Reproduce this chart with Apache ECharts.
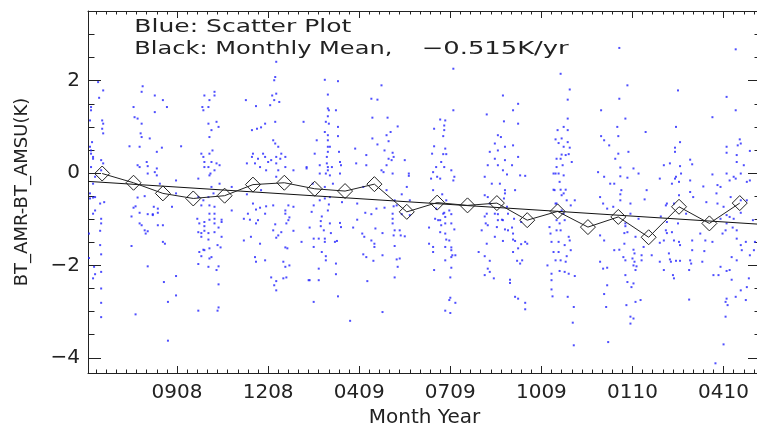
<!DOCTYPE html>
<html><head><meta charset="utf-8">
<script src="https://cdn.jsdelivr.net/npm/echarts@6/dist/echarts.min.js"></script>
<style>html,body{margin:0;padding:0;background:#fff}#c{width:757px;height:424px}</style>
</head><body><div id="c"></div>
<script>
// ---- axis ticks / labels (x in days from the left edge of the plot) ----
const xMajorTicks = [88, 178, 268, 358, 448, 538, 628];
const xTickLabels = ['0908', '1208', '0409', '0709', '1009', '0110', '0410'];
const yMajorTicks = [-4, -2, 0, 2];
const annotLine1 = 'Blue: Scatter Plot';
const annotLine2a = 'Black: Monthly Mean,';
const annotLine2b = '\u22120.515K/yr';

// ---- monthly means (black diamonds) ----
const monthDay  = [14, 45, 74, 104, 135, 163, 194, 224, 254, 283, 315, 345, 375, 404, 434, 464, 494, 524, 554, 584, 614, 644];
const monthMean = [-0.01, -0.21, -0.44, -0.55, -0.49, -0.25, -0.21, -0.34, -0.39, -0.24, -0.84, -0.64, -0.70, -0.65, -1.02, -0.83, -1.17, -0.95, -1.39, -0.73, -1.09, -0.65];

// ---- linear trend (end points) ----
const trendDay = [0, 665];
const trendValue = [-0.18, -1.11];

// ---- scatter (blue dots) [day, K] ----
const scatterPart1 = [
[3,1.43],[3,1.36],[2,1.14],[4,0.67],[2,0.57],[3,0.49],[3,0.42],[5,0.35],[3,0.13],[7,-0.08],[5,-0.23],
[10,1.97],[15,1.79],[11,1.63],[14,1.14],[15,1.07],[14,0.96],[15,0.86],[13,0.28],[15,0.21],[13,0.06],
[45,1.43],[46,1.21],[49,1.18],[53,1.76],[54,1.88],[53,1.07],[52,0.86],[53,0.78],[61,0.75],[41,0.58],[51,0.57],[58,0.24],[59,0.15],[49,0.17],[66,1.68],[66,1.32],[68,0.46],[74,1.58],[78,1.43],[73,0.55],[66,0.02],[68,-0.05],[92,0.58],
[115,1.68],[113,1.43],[114,1.36],[120,1.58],[119,1.43],[125,1.76],[125,1.68],[119,1.07],[127,1.11],[129,1.0],[122,0.93],[120,0.78],[123,0.49],[120,0.42],[112,0.42],[115,0.24],[122,0.24],[127,0.21],[130,0.17],[119,0.13],[125,0.06],[121,-0.01],[109,-0.12],
[156,1.58],[166,1.45],[162,0.93],[167,0.96],[171,0.99],[175,1.07],[163,0.42],[162,0.35],[168,0.31],[173,0.42],[175,0.35],[165,0.21],[170,0.13],[178,0.24],
[186,2.41],[185,2.08],[184,2.01],[182,1.68],[186,1.72],[184,1.58],[189,1.54],[180,1.47],[185,1.11],[183,0.71],[185,0.64],[188,0.57],[186,0.35],[190,0.31],[181,0.28],[186,0.21],[191,0.42],[195,0.35],[188,0.06],[195,0.13],[213,1.11],[216,0.13],
[234,2.02],[247,1.99],[237,1.70],[237,1.40],[238,1.36],[245,1.36],[237,1.23],[235,1.11],[238,1.07],[247,1.0],[234,0.89],[237,0.82],[247,0.80],[226,0.71],[237,0.71],[237,0.57],[239,0.57],[224,0.42],[237,0.46],[248,0.46],[236,0.35],[249,0.24],[250,0.17],[237,0.13],[241,0.13],[216,0.10],[229,0.17],[235,-0.01],[239,-0.05],[249,-0.01],
[264,0.53],[275,0.39],[275,0.17],[290,1.90],[280,1.61],[286,1.59],[281,1.20],[296,1.20],[306,1.01],[299,0.89],[281,0.75],[295,0.82],[286,0.62],[297,0.69],[293,0.49],[301,0.44],[297,0.31],[302,0.35],[313,0.28],[295,0.17],[292,0.02],[301,-0.01],[317,-0.06],
[361,2.26],[361,1.36],[348,1.16],[353,1.14],[352,1.03],[342,0.96],[352,0.93],[351,0.80],[342,0.58],[353,0.53],[340,0.42],[351,0.41],[354,0.41],[349,0.24],[344,0.13],[352,0.13],[359,0.06],[341,0.02],[345,-0.08],[362,-0.08],[348,-0.12],
[410,1.68],[425,1.50],[420,1.36],[394,1.27],[411,1.12],[425,1.07],[405,0.82],[408,0.78],[402,0.64],[412,0.57],[420,0.60],[397,0.46],[405,0.49],[425,0.35],[402,0.31],[412,0.28],[395,0.17],[405,0.17],[419,0.17],[392,-0.08],[410,0.06],[414,-0.03],[427,-0.05],[432,-0.06],[399,-0.23],[412,-0.37]
];
const scatterPart2 = [
[525,2.71],[640,2.68],[467,2.15],[476,1.81],[533,1.90],[583,1.79],[474,1.59],[525,1.61],[507,1.36],[631,1.65],[640,1.36],[474,1.18],[531,1.18],[617,1.21],[470,1.0],[464,0.93],[474,0.93],[523,1.0],[551,0.89],[581,1.0],[507,0.80],[524,0.80],[462,0.73],[468,0.75],[465,0.65],[474,0.67],[510,0.71],[644,0.73],[515,0.60],[470,0.57],[476,0.55],[585,0.67],[580,0.55],[631,0.57],[642,0.60],[645,0.64],[468,0.40],[472,0.39],[475,0.41],[463,0.31],[467,0.31],[478,0.24],[524,0.42],[534,0.46],[521,0.31],[580,0.46],[631,0.44],[641,0.39],[654,0.48],[595,0.29],[469,0.17],[463,0.13],[526,0.12],[539,0.10],[569,0.17],[575,0.21],[585,0.15],[597,0.19],[648,0.17],[641,0.24],[462,-0.01],[465,-0.01],[470,-0.05],[504,0.02],[510,-0.08],[520,-0.23],[526,-0.07],[533,-0.10],[544,-0.01],[565,-0.12],[580,-0.12],[584,-0.19],[586,-0.01],[595,-0.16],[608,-0.29],[617,-0.03],[622,-0.26],[631,-0.01],[634,-0.16],[640,-0.12],[645,-0.01],[651,-0.19],[460,-0.36],[467,-0.36],[472,-0.36]
];
const scatterPart3 = [
[2,-0.55],[5,-0.53],[12,-0.66],[16,-0.63],[7,-0.81],[5,-0.88],[13,-0.99],[13,-1.09],[12,-1.25],[1,-1.31],[12,-1.56],[13,-1.76],[1,-1.84],[6,-2.03],[13,-2.14],[7,-2.19],[5,-2.28],[13,-2.50],[13,-2.81],[13,-3.12],[47,-3.06],[45,-0.75],[47,-0.72],[49,-0.53],[56,-0.50],[43,-0.94],[51,-0.86],[51,-1.09],[53,-1.13],[56,-1.24],[57,-1.31],[59,-1.26],[43,-1.58],[59,-0.89],[64,-0.89],[69,-0.77],[69,-0.86],[65,-0.73],[59,-2.02],[69,-1.13],[74,-1.13],[74,-1.49],[76,-1.53],[75,-2.36],[79,-2.79],[79,-3.63],[83,-0.73],[87,-2.23],[87,-2.65],
[109,-0.52],[112,-0.70],[114,-0.59],[119,-0.52],[120,-0.70],[120,-0.88],[125,-0.88],[125,-0.73],[108,-0.99],[110,-1.09],[115,-1.06],[115,-1.15],[120,-1.01],[125,-0.99],[125,-1.09],[109,-1.28],[112,-1.30],[115,-1.25],[119,-1.30],[125,-1.28],[112,-1.38],[119,-1.44],[132,-1.01],[132,-1.06],[132,-1.38],[129,-1.18],[128,-1.56],[131,-1.61],[114,-1.66],[115,-1.67],[110,-1.71],[120,-1.63],[112,-1.80],[120,-1.85],[122,-1.82],[109,-1.97],[119,-2.03],[129,-2.02],[127,-2.10],[129,-2.41],[109,-2.98],[129,-2.91],[128,-2.98],
[157,-0.46],[163,-0.66],[170,-0.75],[176,-0.72],[183,-0.70],[158,-0.88],[166,-0.79],[175,-0.88],[154,-0.99],[160,-1.01],[166,-1.09],[168,-1.02],[198,-0.70],[203,-0.73],[195,-0.81],[195,-0.88],[199,-0.96],[198,-1.02],[196,-1.09],[185,-1.11],[183,-1.24],[191,-1.28],[188,-1.35],[186,-1.40],[203,-1.25],[161,-1.38],[154,-1.46],[170,-1.53],[195,-1.61],[197,-1.63],[211,-1.49],[165,-1.82],[166,-1.92],[175,-1.89],[193,-1.92],[195,-2.03],[199,-2.00],[181,-2.26],[186,-2.34],[193,-2.28],[196,-2.26],[184,-2.43],[186,-2.54],[218,-2.32],
[221,-0.84],[223,-0.70],[219,-1.18],[223,-1.42],[223,-1.60],[228,-1.42],[219,-2.32],[228,-2.07],[228,-2.32],[223,-2.79],[231,-1.71],[231,-0.94],[230,-1.04],[230,-1.15],[233,-1.24],[234,-1.42],[234,-1.49],[235,-1.80],[235,-1.89],[237,-0.81],[239,-1.09],[238,-0.68],[240,-1.30],[234,-0.55],[229,-0.59],[244,-1.49],[246,-1.47],[245,-1.96],[245,-2.19],[247,-2.67],[249,-1.08],[250,-1.17],[251,-0.63],[259,-3.20],[262,-1.18],[266,-1.01],[266,-0.66],[271,-1.31],[273,-1.38],[272,-1.76],[275,-1.82],[276,-2.34],[274,-0.86],[280,-0.89],[280,-1.46],[283,-1.53],[283,-1.60],[282,-1.90],[284,-1.20],[285,-0.77],[291,-1.30],[291,-1.78],[291,-3.01],[293,-0.75],[301,-0.88],[301,-0.99],[301,-1.09],[303,-1.24],[302,-1.35],[303,-1.58],[305,-1.87],[303,-2.26],[308,-1.24],[309,-1.35],[306,-2.03],[308,-1.85],[313,-1.37],[310,-0.89],[310,-0.46],[302,-0.72],[305,-0.70],[318,-0.91],
[337,-1.18],[337,-1.53],[341,-1.60],[341,-1.71],[342,-2.10],[343,-0.99],[344,-0.77],[348,-1.02],[349,-1.13],[348,-1.28],[350,-0.46],[352,-0.86],[353,-0.95],[353,-1.09],[353,-1.31],[353,-1.89],[353,-1.60],[354,-1.44],[357,-0.81],[357,-1.46],[359,-1.67],[359,-1.82],[359,-2.05],[358,-2.26],[360,-1.78],[359,-1.61],[363,-1.78],[362,-1.22],[359,-0.89],[358,-2.70],[357,-2.75],[363,-2.81],[353,-2.98],[358,-3.03],
[386,-1.71],[389,-1.24],[392,-0.94],[393,-1.09],[395,-1.13],[394,-1.53],[392,-1.80],[397,-1.90],[395,-2.07],[392,-2.21],[401,-2.28],[397,-2.14],[402,-1.38],[404,-1.17],[405,-1.02],[409,-1.01],[412,-1.22],[410,-1.47],[415,-1.24],[419,-1.18],[420,-1.44],[422,-1.47],[420,-1.71],[425,-1.63],[428,-1.54],[432,-1.49],[424,-1.90],[427,-1.96],[417,-2.31],[417,-2.38],[422,-2.68],[425,-2.72],[432,-2.81],[432,-2.95],[429,-1.89],[392,-0.48],[397,-0.66],[412,-0.44],[411,-0.55],[402,-0.88],[405,-0.89],[415,-0.88],[421,-0.99],[428,-1.06]
];
const scatterPart4 = [
[434,-1.53],[456,-1.17],[457,-1.31],[458,-1.49],[460,-1.71],[462,-1.89],[454,-2.00],[458,-2.18],[458,-2.32],[458,-2.52],[459,-2.67],[463,-1.02],[466,-1.09],[467,-1.24],[465,-1.49],[465,-1.71],[467,-1.89],[466,-2.12],[471,-2.14],[475,-2.18],[471,-1.56],[473,-1.80],[472,-1.92],[475,-1.38],[477,-1.67],[481,-2.23],[474,-2.68],[480,-2.90],[479,-3.24],[480,-3.73],[468,-0.48],[477,-0.70],[481,-0.59],[462,-0.66],[470,-0.88],
[506,-1.92],[509,-2.07],[513,-2.05],[510,-2.62],[512,-2.90],[514,-3.66],[513,-2.43],[506,-1.35],[510,-1.46],[520,-1.67],[526,-0.46],[525,-1.66],[530,-1.53],[529,-1.82],[531,-1.89],[530,-1.30],[533,-1.28],[531,-1.15],[539,-1.66],[540,-1.74],[538,-1.85],[540,-1.92],[539,-2.00],[541,-2.10],[542,-2.02],[531,-2.21],[533,-2.36],[539,-2.39],[537,-2.47],[532,-2.86],[541,-2.79],[546,-2.75],[536,-3.11],[539,-3.15],[536,-3.26],[547,-1.89],[547,-1.78],[557,-1.78],[544,-0.99],[549,-1.60],[536,-0.66],[526,-0.59],[513,-0.77],[509,-0.66],
[565,-1.92],[569,-2.10],[575,-1.87],[576,-1.92],[578,-2.21],[579,-2.28],[581,-1.90],[585,-1.90],[594,-2.10],[595,-1.89],[596,-1.96],[607,-1.92],[594,-2.74],[571,-1.24],[572,-1.30],[577,-1.28],[579,-1.46],[584,-1.49],[585,-1.56],[597,-1.46],[597,-1.67],[574,-1.74],[610,-1.46],[617,-1.49],[609,-1.69],[618,-2.21],[623,-2.21],[625,-2.03],[631,-2.12],[634,-2.10],[636,-2.31],[645,-2.54],[640,-2.68],[631,-2.72],[630,-2.79],[632,-2.86],[650,-2.75],[653,-2.28],[651,-2.47],[628,-3.71],[630,-3.11],[620,-4.12],[627,-1.31],[630,-1.24],[637,-1.18],[631,-1.09],[641,-1.42],[645,-1.56],[646,-1.67],[636,-1.82],[641,-1.89],[650,-1.49],[654,-1.78],[658,-1.67],[659,-1.49],[625,-0.99],[631,-0.91],[638,-0.99],[645,-0.86],[622,-0.66],[635,-0.52],[645,-0.59],[584,-0.48],[595,-0.41],[611,-0.63],[621,-0.44],[571,-0.70],[579,-0.66],[572,-1.06],[566,-0.94],[569,-1.46],[565,-1.51],[550,-0.57]
];
const scatterPart5 = [
[5,0.31],[7,-0.52],[2,-0.44],[51,0.13],[59,-0.01],[64,-0.91],[68,0.10],[71,-0.23],[87,-0.44],[87,-0.16],[114,0.35],[115,0.13],[120,-0.05],[122,-0.30],[124,-0.44],[130,-0.23],[142,-0.30],[142,-0.81],[157,0.21],[176,0.06],[171,-0.37],[186,-0.08],[203,0.06],[222,-0.23],[229,-0.01],[234,-0.30],[236,0.21],[237,0.06],[239,-0.52],[242,-0.23],[265,0.21],[272,-0.30],[290,0.06],[295,-0.37],[300,0.28],[303,-0.59],[315,-0.30],[318,-0.59],
[317,-0.01],[339,-0.12],[341,-0.37],[346,-1.02],[351,-0.88],[354,-0.59],[359,-1.09],[361,-0.16],[394,-0.88],[395,-0.52],[407,-0.23],[410,-1.02],[414,-0.73],[420,-1.31],[422,-0.37],[460,-0.01],[461,-0.37],[463,-0.66],[466,-0.19],[468,-0.81],[470,-0.44],[471,-1.02],[473,-0.59],[463,-1.24],[476,-1.46],[506,-0.52],[516,-0.23],[519,-0.73],[527,-0.37],[531,-1.09],[536,-0.88],[541,-1.38],[552,-0.37],[572,-0.66],[577,-0.23],[581,-0.08],[583,-1.09],[591,-0.88],[598,-0.52],[605,-1.31],[625,-0.30],[628,-0.73],[634,-0.95],[638,-0.08],[641,-1.24],[651,-0.59],[654,-0.16],[657,-1.02]
];

// ---- build ----
const scatterData = [].concat(scatterPart1, scatterPart2, scatterPart3, scatterPart4, scatterPart5);
const monthData = monthDay.map((d, i) => [d, monthMean[i]]);
const trendData = trendDay.map((d, i) => [d, trendValue[i]]);

const xMinorTicks = [];
for (let d = 8; d <= 660; d += 10) xMinorTicks.push(d);
const yMinorTicks = [];
for (let v = -4; v <= 3.01; v += 0.5) yMinorTicks.push(+v.toFixed(1));

const X_MIN = 0, X_MAX = 665, Y_MIN = -4.33, Y_MAX = 3.51;
const ink = '#222';
const FONT = '"DejaVu Sans", sans-serif';

function xAxisDef(position, ticks, len, withLine, withLabels) {
  const a = {
    type: 'value', position: position, min: X_MIN, max: X_MAX,
    splitLine: { show: false },
    axisLine: { show: withLine, onZero: false, lineStyle: { color: ink, width: 1 } },
    axisTick: { show: true, inside: true, length: len, customValues: ticks, lineStyle: { color: ink, width: 1 } },
    axisLabel: { show: false },
    axisPointer: { show: false }
  };
  if (withLabels) {
    a.axisLabel = {
      show: true, customValues: xMajorTicks,
      formatter: v => { const i = xMajorTicks.indexOf(Math.round(v)); return i >= 0 ? xTickLabels[i] : ''; },
      color: ink, fontFamily: FONT, fontSize: 20, margin: 10
    };
    a.name = 'Month Year';
    a.nameLocation = 'middle';
    a.nameGap = 31;
    a.nameTextStyle = { color: ink, fontFamily: FONT, fontSize: 20 };
  }
  return a;
}
function yAxisDef(position, ticks, len, withLine, withLabels) {
  const a = {
    type: 'value', position: position, min: Y_MIN, max: Y_MAX,
    splitLine: { show: false },
    axisLine: { show: withLine, onZero: false, lineStyle: { color: ink, width: 1 } },
    axisTick: { show: true, inside: true, length: len, customValues: ticks, lineStyle: { color: ink, width: 1 } },
    axisLabel: { show: false },
    axisPointer: { show: false }
  };
  if (withLabels) {
    a.axisLabel = {
      show: true, customValues: yMajorTicks,
      formatter: v => (v < 0 ? '\u2212' + Math.abs(v) : String(v)),
      color: ink, fontFamily: FONT, fontSize: 20, margin: 8
    };
    a.name = 'BT_AMR-BT_AMSU(K)';
    a.nameLocation = 'middle';
    a.nameGap = 57;
    a.nameTextStyle = { color: ink, fontFamily: FONT, fontSize: 18 };
  }
  return a;
}

function fitScale(text, font, target) {
  const ctx = document.createElement('canvas').getContext('2d');
  ctx.font = font;
  return target / ctx.measureText(text).width;
}
const annFont = '18px "DejaVu Sans"';
function annText(text, x, y, width) {
  return {
    type: 'text', x: x, y: y, scaleX: fitScale(text, annFont, width), silent: true, z: 10,
    style: { text: text, font: annFont, fill: ink, textAlign: 'left', align: 'left', textVerticalAlign: 'top', verticalAlign: 'top' }
  };
}

const chart = echarts.init(document.getElementById('c'), null, { renderer: 'canvas' });
chart.setOption({
  animation: false,
  backgroundColor: '#fff',
  grid: { left: 88, top: 11, right: -4, bottom: 51, containLabel: false, outerBoundsMode: 'none' },
  xAxis: [
    xAxisDef('bottom', xMajorTicks, 7, true, true),
    xAxisDef('bottom', xMinorTicks, 3.5, false, false),
    xAxisDef('top', xMajorTicks, 7, true, false),
    xAxisDef('top', xMinorTicks, 3.5, false, false)
  ],
  yAxis: [
    yAxisDef('left', yMajorTicks, 13, true, true),
    yAxisDef('left', yMinorTicks, 6.5, false, false),
    yAxisDef('right', yMajorTicks, 13, true, false),
    yAxisDef('right', yMinorTicks, 6.5, false, false)
  ],
  graphic: [
    annText(annotLine1, 134.3, 18.8, 217),
    annText(annotLine2a, 134.3, 40.5, 258),
    annText(annotLine2b, 421.7, 40.5, 147)
  ],
  series: [
    {
      type: 'scatter', xAxisIndex: 0, yAxisIndex: 0, data: scatterData,
      symbol: 'rect', symbolSize: 2, itemStyle: { color: '#2222ff' },
      silent: true, z: 1
    },
    {
      type: 'line', xAxisIndex: 0, yAxisIndex: 0, data: trendData,
      symbol: 'none', lineStyle: { color: '#111', width: 1 }, silent: true, z: 3
    },
    {
      type: 'line', xAxisIndex: 0, yAxisIndex: 0, data: monthData,
      symbol: 'diamond', symbolSize: 15, showAllSymbol: true,
      itemStyle: { color: 'rgba(0,0,0,0)', borderColor: '#222', borderWidth: 1 },
      lineStyle: { color: '#222', width: 1 }, silent: true, z: 4
    }
  ]
});
</script>
</body></html>
